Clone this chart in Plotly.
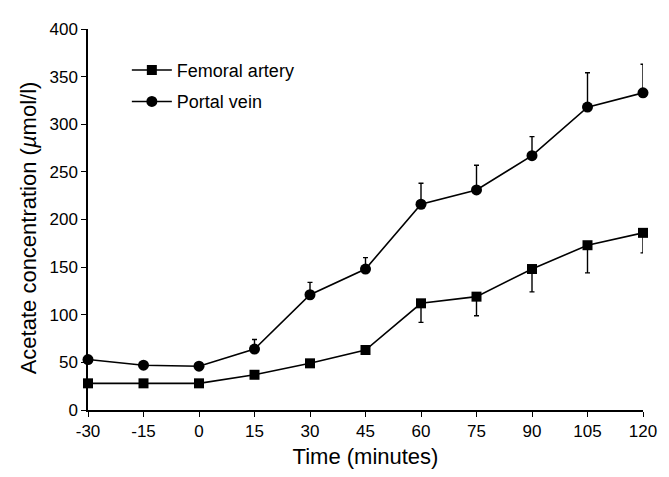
import plotly.graph_objects as go

time = [-30, -15, 0, 15, 30, 45, 60, 75, 90, 105, 120]
femoral = [28, 28, 28, 37, 49, 63, 112, 119, 148, 173, 186]
femoral_err_down = [0, 0, 0, 0, 0, 3, 20, 20, 24, 29, 21]
portal = [53, 47, 46, 64, 121, 148, 216, 231, 267, 318, 333]
portal_err_up = [0, 0, 0, 10, 13, 12, 22, 26, 20, 36, 30]
x_ticks = [-30, -15, 0, 15, 30, 45, 60, 75, 90, 105, 120]
y_ticks = [0, 50, 100, 150, 200, 250, 300, 350, 400]

zeros = [0] * len(time)
fig = go.Figure()
fig.add_trace(go.Scatter(
    x=time, y=femoral, name="Femoral artery", mode="lines+markers",
    legendgroup="f",
    line=dict(color="black", width=1.6),
    marker=dict(symbol="square", size=10, color="black"),
    error_y=dict(type="data", symmetric=False, array=zeros, arrayminus=femoral_err_down,
                 color="black", thickness=1.4, width=2.5),
    cliponaxis=False,
))
fig.add_trace(go.Scatter(
    x=time, y=portal, name="Portal vein", mode="lines+markers",
    legendgroup="p",
    line=dict(color="black", width=1.6),
    marker=dict(symbol="circle", size=11, color="black"),
    error_y=dict(type="data", symmetric=False, array=portal_err_up, arrayminus=zeros,
                 color="black", thickness=1.4, width=2.5),
    cliponaxis=False,
))

font_family = "Liberation Sans, Arial, sans-serif"
fig.update_layout(
    width=661, height=469,
    margin=dict(l=80, r=17, t=15, b=58),
    paper_bgcolor="white", plot_bgcolor="white",
    font=dict(family=font_family, color="black", size=17),
    showlegend=True,
    legend=dict(x=0.07, y=0.94, xanchor="left", yanchor="top",
                bgcolor="rgba(0,0,0,0)", font=dict(size=18),
                itemwidth=40, tracegroupgap=5),
    xaxis=dict(range=[-30, 120], tickvals=x_ticks, ticktext=[str(v) for v in x_ticks],
               showgrid=False, zeroline=False, showline=True, linecolor="black", linewidth=1.5,
               ticks="outside", ticklen=5, tickwidth=1.2, tickcolor="black",
               tickfont=dict(size=17),
               title=dict(text="Time (minutes)", font=dict(size=22), standoff=8)),
    yaxis=dict(range=[0, 400], tickvals=y_ticks,
               showgrid=False, zeroline=False, showline=True, linecolor="black", linewidth=1.5,
               ticks="outside", ticklen=5, tickwidth=1.2, tickcolor="black",
               tickfont=dict(size=17)),
    annotations=[dict(text="Acetate concentration (<i>µ</i>mol/l)", textangle=-90,
                      xref="paper", yref="paper", x=-0.108, y=0.477,
                      xanchor="center", yanchor="middle", showarrow=False,
                      font=dict(size=22))],
)
fig.write_html("out.html")
